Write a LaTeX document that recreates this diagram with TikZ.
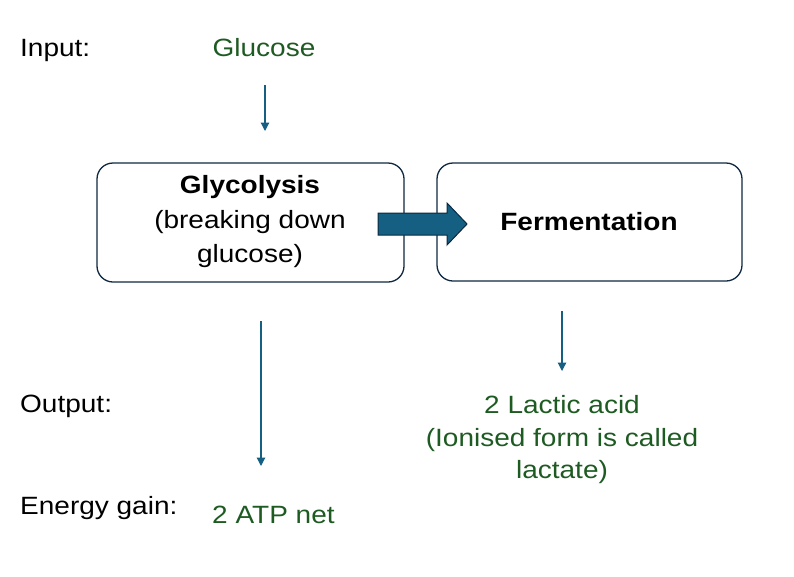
\documentclass[tikz,border=0pt]{standalone}
\usepackage{fontspec}
\setmainfont[FakeStretch=1.12]{Liberation Sans}
\usetikzlibrary{arrows.meta}
\definecolor{txtgreen}{HTML}{1E5B22}
\definecolor{arrowblue}{HTML}{156082}
\definecolor{boxline}{HTML}{0E2841}
\begin{document}
\begin{tikzpicture}[x=1pt,y=-1pt,
  lbl/.style={font=\fontsize{25}{29}\selectfont, inner sep=0pt},
  grn/.style={lbl, text=txtgreen},
  procbox/.style={draw=boxline, line width=1.3pt, rounded corners=16pt, fill=white},
  thinarrow/.style={draw=arrowblue, line width=1.2pt, -{Triangle[length=8.5pt,width=8.5pt]}}
]
\useasboundingbox (0,0) rectangle (794,576);
% labels
\node[lbl, anchor=base west] (input) at (20,56) {Input:};
\node[lbl, anchor=base west] (output) at (20,412) {Output:};
\node[lbl, anchor=base west] (energy) at (20,514) {Energy gain:};
\node[grn, anchor=base] (glucose) at (264,56) {Glucose};
\node[grn, anchor=base west] (atp) at (212,523) {2 ATP net};
% boxes
\draw[procbox] (97,163) rectangle (404,282);
\draw[procbox] (437,163) rectangle (742,281);
\node[lbl, align=center, font=\fontsize{25}{34.5}\selectfont] (glyc) at (250,222)
  {\textbf{Glycolysis}\\(breaking down\\glucose)};
\node[lbl, font=\fontsize{25}{29}\selectfont\bfseries] (ferm) at (589,222) {Fermentation};
\node[grn, align=center, font=\fontsize{25}{32.5}\selectfont] (lactic) at (562,440)
  {2 Lactic acid\\(Ionised form is called\\lactate)};
% block arrow
\draw[fill=arrowblue, draw=boxline, line width=1pt, line join=miter]
  (378,213) -- (447,213) -- (447,203) -- (467,224) -- (447,245) -- (447,235) -- (378,235) -- cycle;
% thin arrows
\coordinate (a1s) at (265,85); \coordinate (a1e) at (265,131);
\coordinate (a2s) at (261,321); \coordinate (a2e) at (261,466);
\coordinate (a3s) at (562,311); \coordinate (a3e) at (562,371);
\draw[thinarrow] (a1s) -- (a1e);
\draw[thinarrow] (a2s) -- (a2e);
\draw[thinarrow] (a3s) -- (a3e);
\end{tikzpicture}
\end{document}
